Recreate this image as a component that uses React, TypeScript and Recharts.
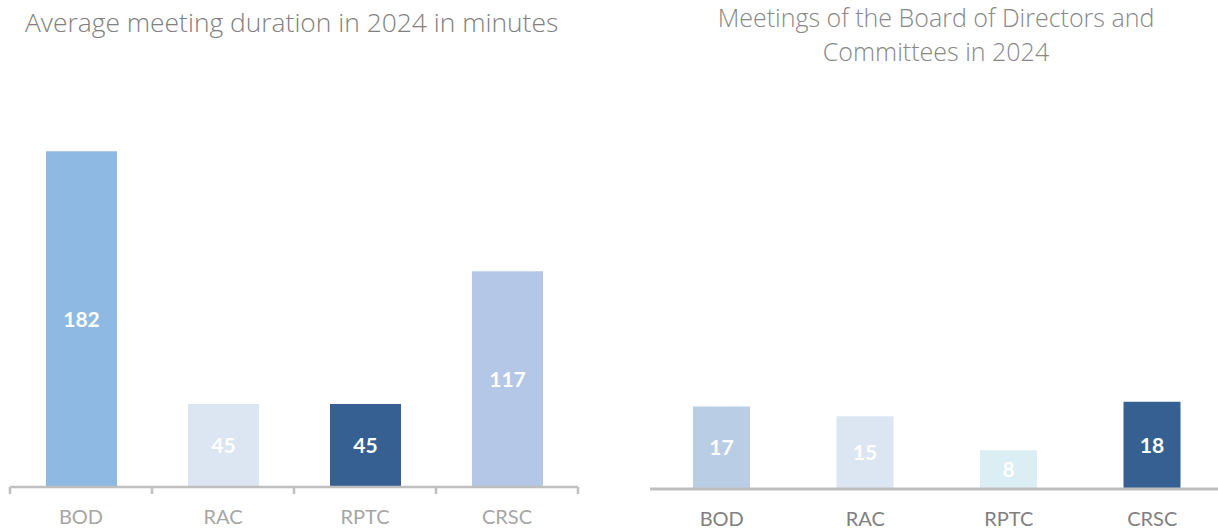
import React from 'react';
import { BarChart, Bar, XAxis, YAxis, Cell, LabelList } from 'recharts';

const committees = ['BOD', 'RAC', 'RPTC', 'CRSC'];
const avgDuration = [182, 45, 45, 117];
const meetingsCount = [17, 15, 8, 18];

const durationColors = ['#8db9e2', '#dce6f2', '#376092', '#b4c7e7'];
const meetingsColors = ['#b9cde5', '#dce6f2', '#dbeef4', '#376092'];

const durationData = committees.map((name, i) => ({ name, value: avgDuration[i] }));
const meetingsData = committees.map((name, i) => ({ name, value: meetingsCount[i] }));

const FONT = 'Lato, "Open Sans", sans-serif';
const TITLE_FONT = '"Open Sans", Lato, sans-serif';

const CatTick = (props: any) => {
  const { x, y, payload, index, band, edges, color } = props;
  return (
    <g>
      {edges && (
        <line x1={x - band / 2} x2={x - band / 2} y1={y} y2={y + 7} stroke="#bfbfbf" strokeWidth={2.5} />
      )}
      {edges && index === committees.length - 1 && (
        <line x1={x + band / 2} x2={x + band / 2} y1={y} y2={y + 7} stroke="#bfbfbf" strokeWidth={2.5} />
      )}
      <text x={x} y={y + 32} textAnchor="middle" dominantBaseline="middle" fill={color} fontSize={20} fontFamily={FONT}>
        {payload.value}
      </text>
    </g>
  );
};

const App = () => {
  return (
    <div style={{ position: 'absolute', left: 0, top: 0, width: 1218, height: 531, overflow: 'hidden', background: '#fff' }}>
      <div style={{ position: 'absolute', left: 25, top: 3, fontFamily: TITLE_FONT, fontWeight: 300, fontSize: 26.4, lineHeight: '38px', color: '#808080', whiteSpace: 'nowrap' }}>
        Average meeting duration in 2024 in minutes
      </div>
      <div style={{ position: 'absolute', left: 0, top: 0 }}>
        <BarChart width={600} height={531} data={durationData} margin={{ top: 118, right: 22, bottom: 0, left: 10 }}>
          <XAxis
            dataKey="name"
            height={44}
            tickSize={0}
            tickMargin={0}
            tickLine={false}
            axisLine={{ stroke: '#bfbfbf', strokeWidth: 2.5 }}
            tick={<CatTick band={142} edges color="#a6a6a6" />}
            interval={0}
          />
          <YAxis hide domain={[0, 200]} />
          <Bar dataKey="value" barSize={71} isAnimationActive={false}>
            {durationData.map((d, i) => (
              <Cell key={d.name} fill={durationColors[i]} />
            ))}
            <LabelList dataKey="value" position="center" fill="#ffffff" fontSize={21} fontWeight={700} fontFamily={FONT} />
          </Bar>
        </BarChart>
      </div>

      <div style={{ position: 'absolute', left: 636, width: 600, top: 0, textAlign: 'center', fontFamily: TITLE_FONT, fontWeight: 300, fontSize: 25, lineHeight: '34px', color: '#888888', whiteSpace: 'nowrap' }}>
        Meetings of the Board of Directors and
        <br />
        Committees in 2024
      </div>
      <div style={{ position: 'absolute', left: 600, top: 0 }}>
        <BarChart width={624} height={531} data={meetingsData} margin={{ top: 392, right: 0, bottom: 0, left: 50 }}>
          <XAxis
            dataKey="name"
            height={42}
            tickSize={0}
            tickMargin={0}
            tickLine={false}
            axisLine={{ stroke: '#bfbfbf', strokeWidth: 3 }}
            tick={<CatTick band={143.5} color="#808080" />}
            interval={0}
          />
          <YAxis hide domain={[0, 20]} />
          <Bar dataKey="value" barSize={57} isAnimationActive={false}>
            {meetingsData.map((d, i) => (
              <Cell key={d.name} fill={meetingsColors[i]} />
            ))}
            <LabelList dataKey="value" position="center" fill="#ffffff" fontSize={21} fontWeight={700} fontFamily={FONT} />
          </Bar>
        </BarChart>
      </div>
    </div>
  );
};

export default App;
